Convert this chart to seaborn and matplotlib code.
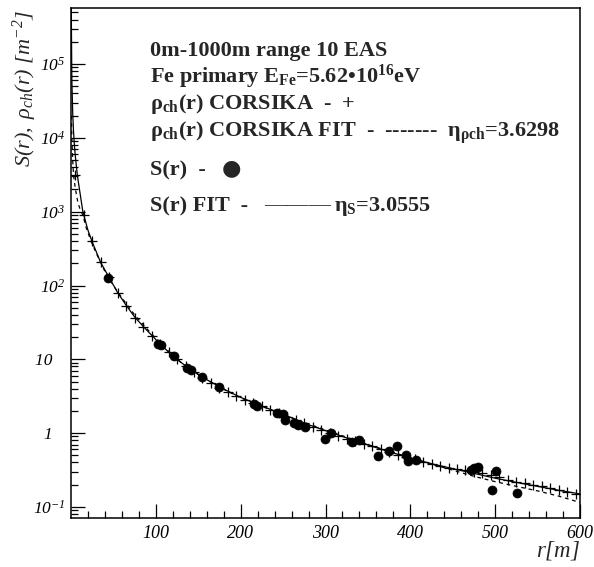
import numpy as np
import pandas as pd
import matplotlib
matplotlib.use("Agg")
import matplotlib.pyplot as plt
import seaborn as sns

# ---------------- data ----------------
# CORSIKA rho_ch(r) points (+)
cors_r = [5, 15, 25, 35, 45, 55, 65, 75, 85, 95,
          105, 115, 125, 135, 145, 155, 165, 175, 185, 195,
          205, 215, 225, 235, 245, 255, 265, 275, 285, 295,
          305, 315, 325, 335, 345, 355, 365, 375, 385, 395,
          405, 415, 425, 435, 445, 455, 465, 475, 485, 495,
          505, 515, 525, 535, 545, 555, 565, 575, 585, 595]
cors_rho = [3100, 900, 400, 210, 130, 78, 52, 36, 27, 20.5,
            16, 12.5, 10, 8.2, 6.7, 5.6, 4.8, 4.1, 3.6, 3.2,
            2.85, 2.55, 2.3, 2.05, 1.85, 1.66, 1.5, 1.36, 1.22, 1.1,
            1.0, 0.91, 0.83, 0.77, 0.72, 0.66, 0.61, 0.56, 0.51, 0.47,
            0.44, 0.41, 0.38, 0.355, 0.34, 0.33, 0.315, 0.30, 0.285, 0.27,
            0.255, 0.235, 0.22, 0.21, 0.20, 0.19, 0.18, 0.17, 0.16, 0.15]

# S(r) detector points (filled circles)
s_r = [44, 102, 106, 121.8, 136.4, 141, 154, 174.5, 216, 219,
       242.5, 249.5, 252, 263, 268, 276, 299.4, 307, 331.6, 340,
       362, 375, 384.7, 395, 397.6, 406.7, 472, 475.5, 480, 496,
       501, 526]
s_val = [128, 16.3, 15.8, 11.2, 7.55, 7.2, 5.8, 4.17, 2.5, 2.35,
         1.89, 1.82, 1.51, 1.36, 1.29, 1.2, 0.82, 0.99, 0.76, 0.81,
         0.49, 0.58, 0.67, 0.50, 0.42, 0.43, 0.32, 0.34, 0.35, 0.17,
         0.31, 0.155]

# S(r) FIT curve (solid)
sfit_r = [0.3, 1, 2, 3, 4, 5, 7.5, 10, 14, 20, 25, 35, 45, 55, 65, 75, 85,
          100, 120, 140, 160, 180, 200, 220, 250, 280, 300, 325, 350, 375,
          400, 425, 450, 475, 500, 525, 550, 575, 600]
sfit_v = [6e5, 6e4, 2.2e4, 1.2e4, 8000, 5800, 3100, 2000, 1000, 560, 390,
          205, 128, 80, 54, 37.5, 28, 18.5, 11, 7.4, 5.3, 3.95, 3.05, 2.45,
          1.8, 1.3, 1.08, 0.86, 0.69, 0.56, 0.46, 0.385, 0.33, 0.285, 0.245,
          0.215, 0.19, 0.168, 0.15]

# rho_ch CORSIKA FIT curve (dashed)
rfit_r = [0.5, 1, 2, 3, 5, 8, 11, 14, 18, 24, 30, 40, 50, 60, 75, 90, 110,
          130, 150, 175, 200, 225, 250, 275, 300, 325, 350, 375, 400, 425,
          450, 475, 500, 525, 550, 575, 600]
rfit_v = [2e4, 1e4, 5000, 3100, 2100, 1350, 1050, 900, 600, 390, 270, 155,
          100, 68, 40, 25.5, 14.5, 9, 6.2, 4.2, 3.0, 2.3, 1.78, 1.4, 1.1,
          0.88, 0.7, 0.57, 0.465, 0.38, 0.315, 0.26, 0.22, 0.19, 0.165,
          0.14, 0.115]

xticks = [100, 200, 300, 400, 500, 600]
xtick_labels = ["100", "200", "300", "400", "500", "600"]
yticks = [0.1, 1, 10, 100, 1000, 10000, 100000]
ytick_labels = [r"$10^{-1}$", "1   ", "10   ", r"$10^{2}$",
                r"$10^{3}$", r"$10^{4}$", r"$10^{5}$"]

# ---------------- style ----------------
sns.set_style("ticks")
plt.rcParams["font.family"] = ["Liberation Serif", "DejaVu Serif"]
plt.rcParams["mathtext.fontset"] = "custom"
plt.rcParams["mathtext.rm"] = "Liberation Serif:italic"
plt.rcParams["mathtext.it"] = "Liberation Serif:italic"
plt.rcParams["mathtext.bf"] = "Liberation Serif:bold"

W, H = 594, 567
fig = plt.figure(figsize=(W / 100, H / 100), dpi=100)
ax = fig.add_axes([71 / W, 49 / H, 509 / W, 510 / H])

sfit = pd.DataFrame({"r": sfit_r, "v": sfit_v})
rfit = pd.DataFrame({"r": rfit_r, "v": rfit_v})
cors = pd.DataFrame({"r": cors_r, "v": cors_rho})
sdet = pd.DataFrame({"r": s_r, "v": s_val})

sns.lineplot(data=sfit, x="r", y="v", ax=ax, color="black", lw=0.9,
             estimator=None, sort=False)
sns.lineplot(data=rfit, x="r", y="v", ax=ax, color="black", lw=0.9,
             estimator=None, sort=False, dashes=False, linestyle=(0, (3, 3)))
sns.scatterplot(data=cors, x="r", y="v", ax=ax, marker="+", s=60,
                color="black", linewidth=0.9)
sns.scatterplot(data=sdet, x="r", y="v", ax=ax, marker="o", s=42,
                color="black", edgecolor="black", linewidth=0.5)

ax.set_yscale("log")
ax.set_xlim(0, 600)
ax.set_ylim(0.0708, 5.75e5)
ax.set_xlabel("")
ax.set_ylabel("")

ax.set_xticks(xticks)
ax.set_xticklabels(xtick_labels, fontstyle="italic", fontsize=13)
ax.set_xticks(np.arange(20, 600, 20), minor=True)
ax.set_yticks(yticks)
ax.set_yticklabels(ytick_labels, fontsize=12.5)
for lab in ax.get_yticklabels():
    lab.set_fontstyle("italic")
ax.yaxis.set_minor_locator(matplotlib.ticker.LogLocator(base=10, subs=np.arange(2, 10)))
ax.yaxis.set_minor_formatter(matplotlib.ticker.NullFormatter())
ax.tick_params(which="both", direction="in", colors="black", width=0.9,
               top=False, right=False)
ax.tick_params(which="major", length=10)
ax.tick_params(which="minor", length=5)
ax.tick_params(axis="y", which="major", pad=4)
ax.tick_params(axis="x", which="major", pad=5)
for sp in ax.spines.values():
    sp.set_visible(True)
    sp.set_color("black")
    sp.set_linewidth(1.1)

# ---------------- texts ----------------
def ftxt(x, y, s, **kw):
    fig.text(x / W, 1 - y / H, s, **kw)

FS = 16
bold = dict(fontsize=FS, fontweight="bold", va="center", ha="left")
ftxt(150, 51, "0m-1000m range 10 EAS", **bold)
ftxt(150, 77, r"Fe primary E$_{\mathbf{Fe}}$=5.62•10$^{\mathbf{16}}$eV", **bold)
ftxt(150, 104, r"ρ$_{\mathbf{ch}}$(r) CORSIKA  -  +", **bold)
ftxt(150, 133, r"ρ$_{\mathbf{ch}}$(r) CORSIKA FIT  -  -------  η$_{\mathbf{ρch}}$=3.6298", **bold)
ftxt(150, 170, "S(r)  -", **bold)
ftxt(222, 168, "●", fontsize=16, family=["DejaVu Sans"], va="center", ha="left")
ftxt(150, 206, "S(r) FIT  -", **bold)
ftxt(264, 206, "\u2014\u2014\u2014", fontsize=FS, va="center", ha="left")
ftxt(334, 206, r"η$_{\mathbf{S}}$=3.0555", **bold)

ftxt(25, 10, r"$S(r),\ \rho_{ch}(r)\ [m^{-2}]$", fontsize=16, rotation=90,
     ha="center", va="top")
ftxt(580, 550, r"$r[m]$", fontsize=16.5, ha="right", va="center")

fig.savefig("out.png", dpi=100)
